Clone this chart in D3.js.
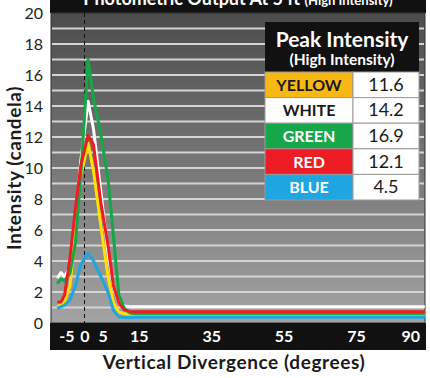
<!DOCTYPE html>
<html>
<head>
<meta charset="utf-8">
<script src="https://cdn.jsdelivr.net/npm/d3@7"></script>
<style>
  body { margin: 0; background: #fff; }
  svg { display: block; font-family: Lato, "Open Sans", sans-serif; }
</style>
</head>
<body>
<main></main>
<script>
// degrees sampled along the curves (last point runs flat to the right edge)
const degrees = [-7.5, -6.5, -5.5, -4, -2.5, -1, 1, 2.5, 4.5, 6.5, 8, 9.5, 11, 12.5, 14, 94];

const yellowValues = [1.05, 1.2, 1.4, 2.4, 6.0, 9.5, 11.6, 9.8, 6.3, 3.0, 1.3, 0.7, 0.6, 0.58, 0.55, 0.55];
const whiteValues  = [2.9, 3.25, 3.0, 3.6, 6.5, 10.5, 14.3, 12.5, 8.5, 4.5, 2.3, 1.3, 1.1, 1.05, 1.05, 1.05];
const greenValues  = [2.55, 2.85, 2.7, 3.2, 5.2, 9.6, 17.0, 14.5, 12.2, 9.3, 5.6, 1.8, 0.95, 0.65, 0.6, 0.6];
const redValues    = [1.35, 1.35, 1.8, 4.2, 7.4, 10.2, 12.1, 11.5, 7.8, 5.0, 2.4, 1.3, 0.85, 0.75, 0.73, 0.73];
const blueValues   = [0.95, 1.05, 1.15, 1.5, 2.4, 3.8, 4.5, 4.0, 3.0, 2.0, 0.8, 0.4, 0.35, 0.35, 0.37, 0.37];

const xTicks = [-5, 0, 5, 15, 35, 55, 75, 90];
const yTicks = [0, 2, 4, 6, 8, 10, 12, 14, 16, 18, 20];

const tableLabels = ["YELLOW", "WHITE", "GREEN", "RED", "BLUE"];
const peakValues = [11.6, 14.2, 16.9, 12.1, 4.5];

const series = [
  { name: "YELLOW", values: yellowValues, line: "#ffe000", cell: "#f8b814", text: "#1a1a1a" },
  { name: "WHITE",  values: whiteValues,  line: "#ffffff", cell: "#ffffff", text: "#1a1a1a" },
  { name: "GREEN",  values: greenValues,  line: "#13a845", cell: "#15a74a", text: "#ffffff" },
  { name: "RED",    values: redValues,    line: "#ee1c24", cell: "#ee1c24", text: "#ffffff" },
  { name: "BLUE",   values: blueValues,   line: "#1ea6e0", cell: "#1fa5df", text: "#ffffff" }
];

const w = 430;
const h = 378;
const plot = { left: 51, right: 425, top: 13, bottom: 323 };

const x = d3.scaleLinear().domain([-9.25, 94.06]).range([plot.left, plot.right]);
const y = d3.scaleLinear().domain([0, 20]).range([plot.bottom, plot.top]);

const svg = d3.select("main")
  .append("svg")
  .attr("width", w)
  .attr("height", h);

const defs = svg.append("defs");
const grad = defs.append("linearGradient")
  .attr("id", "bg")
  .attr("x1", 0).attr("y1", 0).attr("x2", 0).attr("y2", 1);
grad.append("stop").attr("offset", "0%").attr("stop-color", "#4c4c4c");
grad.append("stop").attr("offset", "100%").attr("stop-color", "#a3a3a3");

defs.append("clipPath").attr("id", "titleClip")
  .append("rect")
  .attr("x", plot.left).attr("y", 0)
  .attr("width", plot.right - plot.left).attr("height", plot.top - 1);

// title band (its text is cut off at the top, as in the source)
svg.append("rect")
  .attr("x", plot.left - 1).attr("y", 0)
  .attr("width", plot.right - plot.left + 2).attr("height", plot.top)
  .attr("fill", "#111");

svg.append("g")
  .attr("clip-path", "url(#titleClip)")
  .append("text")
  .attr("x", 238).attr("y", 5)
  .attr("text-anchor", "middle")
  .attr("fill", "#fff")
  .attr("font-weight", "bold")
  .attr("font-size", 18)
  .text("Photometric Output At 5 ft ")
  .append("tspan")
  .attr("font-size", 13)
  .text("(High Intensity)");

// plot background
svg.append("rect")
  .attr("x", plot.left).attr("y", plot.top)
  .attr("width", plot.right - plot.left).attr("height", plot.bottom - plot.top)
  .attr("fill", "url(#bg)")
  .attr("stroke", "#333")
  .attr("stroke-width", 1);

// gridlines at each unit
svg.append("g")
  .selectAll("line")
  .data(d3.range(1, 20))
  .enter()
  .append("line")
  .attr("x1", plot.left + 1).attr("x2", plot.right - 1)
  .attr("y1", d => y(d)).attr("y2", d => y(d))
  .attr("stroke", "#d4d4d4")
  .attr("stroke-width", 2);

// dashed zero line
svg.append("line")
  .attr("x1", x(0)).attr("x2", x(0))
  .attr("y1", plot.top).attr("y2", plot.bottom)
  .attr("stroke", "#111")
  .attr("stroke-width", 1)
  .attr("stroke-dasharray", "4,3");

// curves
const line = d3.line()
  .x((d, i) => x(degrees[i]))
  .y(d => y(d));

const drawOrder = ["WHITE", "YELLOW", "GREEN", "RED", "BLUE"];
svg.append("g")
  .selectAll("path")
  .data(drawOrder.map(n => series.find(s => s.name === n)))
  .enter()
  .append("path")
  .attr("fill", "none")
  .attr("stroke", d => d.line)
  .attr("stroke-width", 3)
  .attr("stroke-linejoin", "round")
  .attr("d", d => line(d.values));

// x axis band
svg.append("rect")
  .attr("x", plot.left - 1).attr("y", plot.bottom)
  .attr("width", plot.right - plot.left + 2).attr("height", 27)
  .attr("fill", "#111");

const xAxis = svg.append("g")
  .attr("transform", `translate(0,${plot.bottom + 5})`)
  .call(d3.axisBottom(x).tickValues(xTicks).tickSize(0).tickFormat(d => String(d)));
xAxis.select(".domain").remove();
xAxis.selectAll("text")
  .attr("fill", "#fff")
  .attr("font-family", "Lato, sans-serif")
  .attr("font-weight", "bold")
  .attr("font-size", 16);

// y axis
const yAxis = svg.append("g")
  .attr("transform", `translate(${plot.left - 5},0)`)
  .call(d3.axisLeft(y).tickValues(yTicks).tickSize(0));
yAxis.select(".domain").remove();
yAxis.selectAll("text")
  .attr("fill", "#222")
  .attr("font-family", "Lato, sans-serif")
  .attr("font-size", 16);

// axis titles
svg.append("text")
  .attr("x", 234).attr("y", 369)
  .attr("text-anchor", "middle")
  .attr("fill", "#1a1a1a")
  .attr("font-weight", "bold")
  .attr("font-size", 19)
  .attr("letter-spacing", 0.6)
  .text("Vertical Divergence (degrees)");

svg.append("text")
  .attr("transform", "translate(21,168) rotate(-90)")
  .attr("text-anchor", "middle")
  .attr("fill", "#1a1a1a")
  .attr("font-weight", "bold")
  .attr("font-size", 19)
  .attr("letter-spacing", 0.6)
  .text("Intensity (candela)");

// peak intensity table
const table = { left: 265, right: 419, split: 353, top: 22, head: 72, bottom: 200 };
const row = d3.scaleBand().domain(tableLabels).range([table.head, table.bottom]);

const tg = svg.append("g");
tg.append("rect")
  .attr("x", table.left).attr("y", table.top)
  .attr("width", table.right - table.left).attr("height", table.head - table.top)
  .attr("fill", "#111");
tg.append("text")
  .attr("x", (table.left + table.right) / 2).attr("y", 47)
  .attr("text-anchor", "middle")
  .attr("fill", "#fff")
  .attr("font-weight", "bold")
  .attr("font-size", 21)
  .text("Peak Intensity");
tg.append("text")
  .attr("x", (table.left + table.right) / 2).attr("y", 65)
  .attr("text-anchor", "middle")
  .attr("fill", "#fff")
  .attr("font-weight", "bold")
  .attr("font-size", 15.5)
  .text("(High Intensity)");

const rows = tg.selectAll("g.row")
  .data(tableLabels)
  .enter()
  .append("g")
  .attr("class", "row");

rows.append("rect")
  .attr("x", table.left).attr("y", d => row(d))
  .attr("width", table.split - table.left).attr("height", row.bandwidth())
  .attr("fill", d => series.find(s => s.name === d).cell)
  .attr("stroke", "#9a9a9a");
rows.append("rect")
  .attr("x", table.split).attr("y", d => row(d))
  .attr("width", table.right - table.split).attr("height", row.bandwidth())
  .attr("fill", "#fff")
  .attr("stroke", "#9a9a9a");
rows.append("text")
  .attr("x", (table.left + table.split) / 2)
  .attr("y", d => row(d) + row.bandwidth() / 2 + 6)
  .attr("text-anchor", "middle")
  .attr("fill", d => series.find(s => s.name === d).text)
  .attr("font-weight", "bold")
  .attr("font-size", 16)
  .text(d => d);
rows.append("text")
  .attr("x", (table.split + table.right) / 2)
  .attr("y", d => row(d) + row.bandwidth() / 2 + 6)
  .attr("text-anchor", "middle")
  .attr("fill", "#1a1a1a")
  .attr("font-size", 18)
  .text((d, i) => peakValues[i]);
</script>
</body>
</html>
